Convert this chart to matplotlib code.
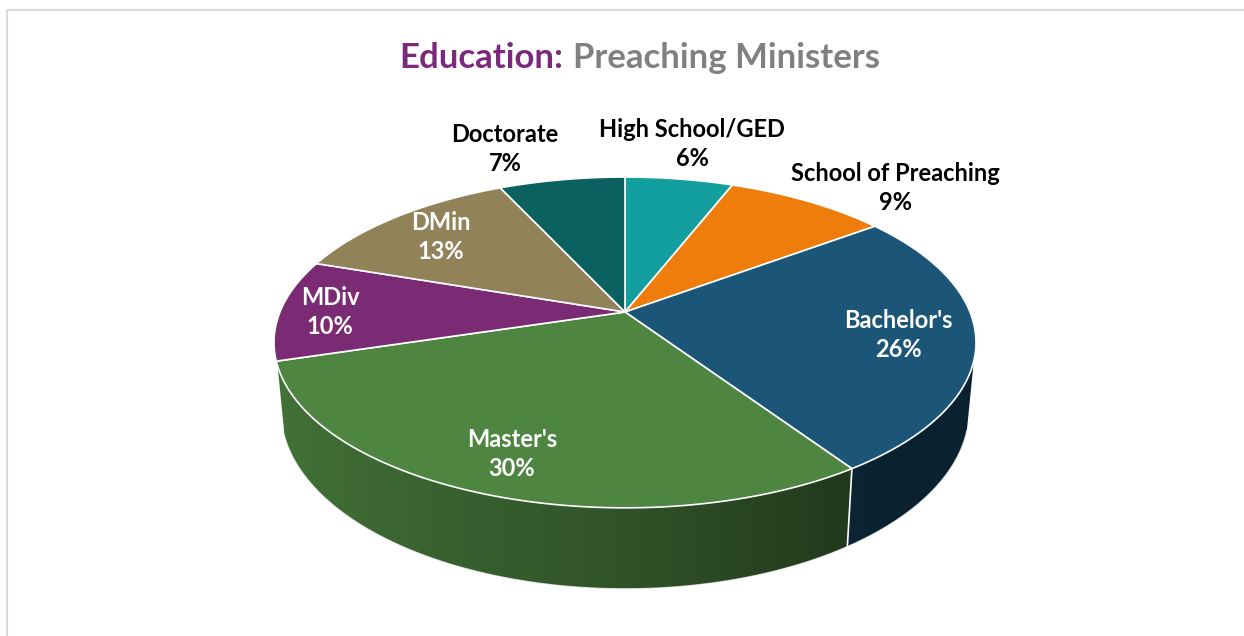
import numpy as np
import matplotlib
matplotlib.use('Agg')
import matplotlib.pyplot as plt
from matplotlib.patches import Polygon
from matplotlib.colors import to_rgb

# ---- data ----
categories = ["High School/GED", "School of Preaching", "Bachelor's", "Master's", "MDiv", "DMin", "Doctorate"]
values = [6, 9, 26, 30, 10, 13, 7]
pct_labels = ["6%", "9%", "26%", "30%", "10%", "13%", "7%"]
colors = ["#139e9f", "#ee7d0b", "#1b5678", "#4e8541", "#7b2a74", "#91825a", "#0b6060"]
label_colors = ["black", "black", "white", "white", "white", "white", "black"]
title_a = "Education:"
title_b = "Preaching Ministers"

# ---- layout (label anchor positions, in pixels: x, baseline of name, baseline of pct) ----
label_pos = {
    "High School/GED": (692, 137, 166),
    "School of Preaching": (895, 181, 210),
    "Bachelor's": (898, 328, 357),
    "Master's": (512, 447, 476),
    "MDiv": (330, 305, 334),
    "DMin": (441, 230, 259),
    "Doctorate": (505, 142, 171),
}

W, H = 1244, 636
fig = plt.figure(figsize=(W / 100, H / 100), dpi=100)
ax = fig.add_axes([0, 0, 1, 1])
ax.set_xlim(0, W)
ax.set_ylim(H, 0)
ax.axis('off')

FONT = ['Lato', 'DejaVu Sans']

# perspective projection of the pie
cx, cy = 625, 312
A, B, k = 345, 159.8, -0.184
D = 66
lean = 0.98


def proj(theta, bottom=False):
    t = np.radians(theta)
    X = np.sin(t)
    Y = -np.cos(t)
    d = 1 + k * Y
    if bottom:
        return cx + lean * A * X / d, cy + B * Y / d + D / d
    return cx + A * X / d, cy + B * Y / d


total = float(sum(values))
bounds = np.concatenate([[0], np.cumsum(values) / total * 360.0])


def shade_factor(X):
    f = np.where(X < 0, 0.62 - 0.25 * X, 0.62 - 0.35 * X)
    return np.clip(f, 0.4, 1.0)


# ---- side wall (gradient-filled, clipped to each wedge's side) ----
vis_lo, vis_hi = 106.8, 253.2
samp = np.linspace(vis_lo, vis_hi, 400)
xs_top = np.array([proj(t)[0] for t in samp])
Xs = np.sin(np.radians(samp))
order = np.argsort(xs_top)
xs_sorted, Xs_sorted = xs_top[order], Xs[order]

for i in range(len(values)):
    t0 = max(bounds[i], vis_lo)
    t1 = min(bounds[i + 1], vis_hi)
    if t1 <= t0:
        continue
    ts = np.linspace(t0, t1, 150)
    pts = [proj(t) for t in ts] + [proj(t, True) for t in ts[::-1]]
    poly = Polygon(pts, closed=True, facecolor='none', edgecolor='none')
    ax.add_patch(poly)
    px = np.array([p[0] for p in pts])
    py = np.array([p[1] for p in pts])
    x0, x1 = px.min() - 2, px.max() + 2
    cols = np.linspace(x0, x1, 600)
    Xc = np.interp(cols, xs_sorted, Xs_sorted)
    f = shade_factor(Xc)
    rgb = np.array(to_rgb(colors[i]))
    img = (f[:, None] * rgb[None, :])[None, :, :]
    im = ax.imshow(img, extent=[x0, x1, py.max() + 2, py.min() - 2], aspect='auto',
                   interpolation='bilinear', zorder=2)
    im.set_clip_path(poly)

ax.set_xlim(0, W)
ax.set_ylim(H, 0)

# bottom edge and boundaries on the side
bt = np.linspace(vis_lo, vis_hi, 200)
bx, by = zip(*[proj(t, True) for t in bt])
ax.plot(bx, by, color='white', lw=0.8, alpha=0.7, zorder=3)
for b in bounds:
    if vis_lo - 0.5 <= b <= vis_hi + 0.5:
        p1 = proj(b)
        p2 = proj(b, True)
        ax.plot([p1[0], p2[0]], [p1[1], p2[1]], color='white', lw=1.2, zorder=3)

# ---- top faces ----
for i in range(len(values)):
    ts = np.linspace(bounds[i], bounds[i + 1], 120)
    pts = [(cx, cy)] + [proj(t) for t in ts]
    ax.add_patch(Polygon(pts, closed=True, facecolor=colors[i], edgecolor='white',
                         lw=1.2, joinstyle='round', zorder=4))

# ---- labels ----
for i, name in enumerate(categories):
    x, y1, y2 = label_pos[name]
    ax.text(x, y1, name, ha='center', va='baseline', fontsize=17, fontweight='bold',
            family=FONT, color=label_colors[i], zorder=6)
    ax.text(x, y2, pct_labels[i], ha='center', va='baseline', fontsize=17, fontweight='bold',
            family=FONT, color=label_colors[i], zorder=6)

# ---- title ----
ax.text(563, 68, title_a, ha='right', va='baseline', fontsize=25, fontweight='bold',
        family=FONT, color='#7b2a7b')
ax.text(573, 68, title_b, ha='left', va='baseline', fontsize=25, fontweight='bold',
        family=FONT, color='#808080')

# ---- chart border ----
ax.plot([6.5, 6.5], [9.5, H], color='#d9d9d9', lw=1.5, solid_capstyle='butt')
ax.plot([6.5, W], [9.5, 9.5], color='#d9d9d9', lw=1.5, solid_capstyle='butt')

fig.savefig('out.png', dpi=100, facecolor='white')
